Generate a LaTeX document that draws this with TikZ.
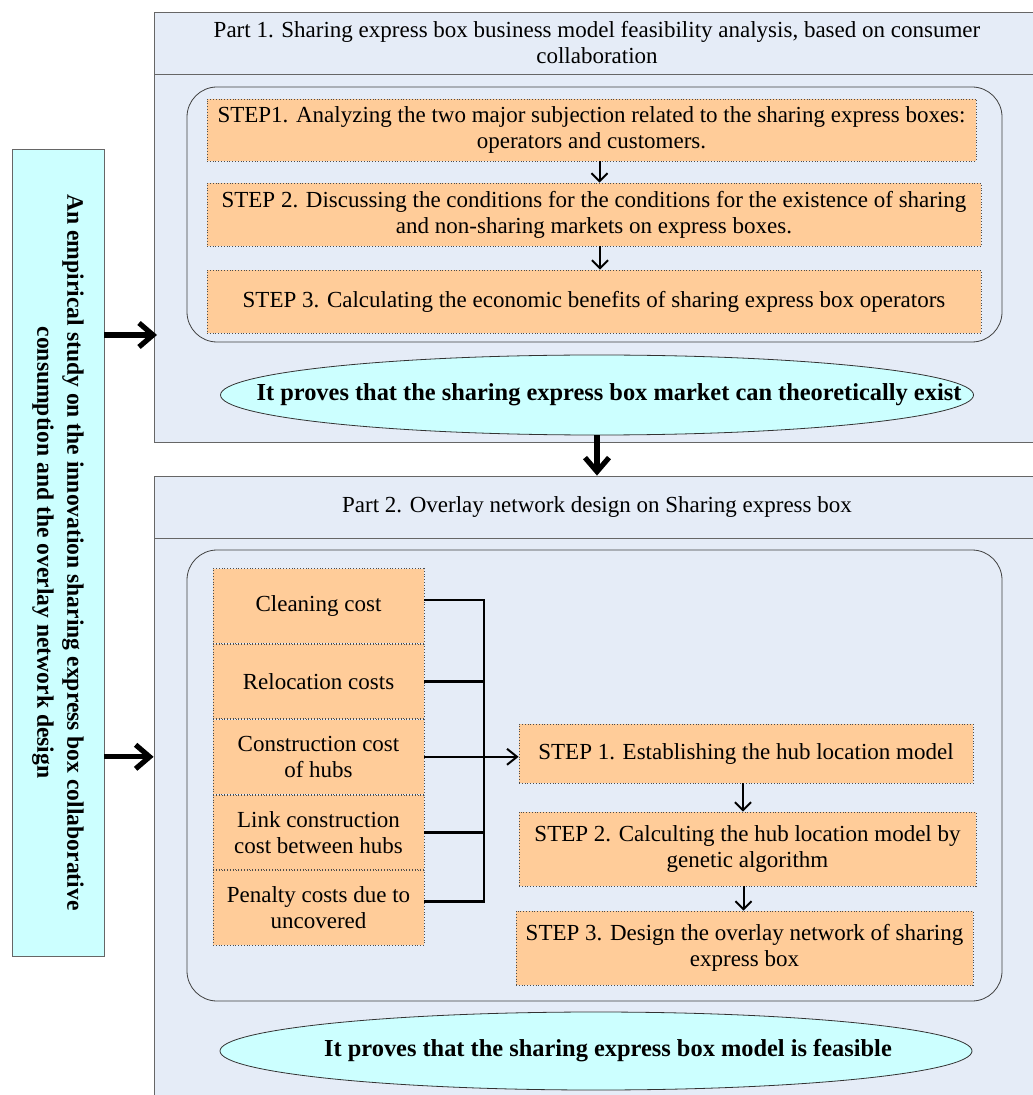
\documentclass[tikz,border=0pt]{standalone}
\usepackage{fontspec}
\setmainfont{Liberation Serif}
\usepackage{xcolor}
\usepackage{tikz}
\usetikzlibrary{arrows.meta, positioning, calc, shapes.geometric}

\definecolor{partbg}{RGB}{229,236,247}
\definecolor{ovalfill}{RGB}{204,255,255}
\definecolor{stepfill}{RGB}{255,204,153}

\begin{document}
\begin{tikzpicture}[
		  x=0.5pt, y=-0.5pt,
		  font=\fontsize{11.5}{13}\selectfont,
		  partbox/.style={
		    draw=black!60,
		    fill=partbg,
		    align=center,
		    inner sep=0pt,
		    minimum width=443pt
		  },
		  roundbox/.style={draw=black!75, rounded corners=15pt, minimum width=407.5pt},
		  stepbox/.style={draw=black!70, densely dotted, fill=stepfill, align=center, inner sep=0pt},
		  costbox/.style={stepbox, minimum width=105.5pt, minimum height=37.3pt},
		  titlebox/.style={
		    draw=black!60,
		    fill=ovalfill,
		    align=center,
		    font=\fontsize{11.8}{15}\selectfont\bfseries,
		    minimum width=403.5pt,
		    minimum height=46pt
		  },
		  ovalbox/.style={ellipse, draw=black!80, fill=ovalfill, inner sep=0pt},
		  ovaltext/.style={font=\fontsize{12.2}{13}\selectfont\bfseries, xshift=6pt},
		  arrow/.style={-{Straight Barb[length=4pt,width=8pt]}, line width=1pt},
		  midarrow/.style={-{Straight Barb[length=5pt,width=8pt]}, line width=1pt},
		  bigarrow/.style={-{Straight Barb[length=7pt,width=12pt]}, line width=2.6pt},
		  busline/.style={line width=1.4pt}
		]
		\useasboundingbox (0,0) rectangle (1032,1095);

		% --- left title ---
		\node[titlebox, rotate=-90] (title) at (58,552.5) {An empirical study on the innovation sharing express box collaborative\\consumption and the overlay network design};

		% --- part 1 ---
		\node[partbox, minimum height=31pt] (p1head) at (597,43) {Part 1. Sharing express box business model feasibility analysis, based on consumer\\collaboration};
		\node[partbox, minimum height=184pt] (p1body) at (597,258) {};
		\node[roundbox, minimum height=127.5pt] (r1) at (594.5,214.5) {};

		\node[stepbox, minimum width=384.5pt, minimum height=31pt] (s1) at (591.5,130) {STEP1. Analyzing the two major subjection related to the sharing express boxes:\\operators and customers.};
		\node[stepbox, minimum width=387pt, minimum height=31.5pt] (s2) at (594,214.5) {STEP 2. Discussing the conditions for the conditions for the existence of sharing\\and non-sharing markets on express boxes.};
		\node[stepbox, minimum width=387pt, minimum height=31.5pt] (s3) at (594,301.5) {STEP 3. Calculating the economic benefits of sharing express box operators};

		\node[ovalbox, minimum width=376.5pt, minimum height=40pt] (e1) at (597,395) {};
		\node[ovaltext] at (e1) {It proves that the sharing express box market can theoretically exist};

		% --- part 2 ---
		\node[partbox, minimum height=31pt] (p2head) at (597,507) {Part 2. Overlay network design on Sharing express box};
		\node[partbox, minimum height=281pt] (p2body) at (597,819) {};
		\node[roundbox, minimum height=225.5pt] (r2) at (594.5,775.5) {};

		\node[costbox] (c1) at (318.5,606) {Cleaning cost};
		\node[costbox, below=0pt of c1] (c2) {Relocation costs};
		\node[costbox, below=0pt of c2] (c3) {Construction cost\\of hubs};
		\node[costbox, below=0pt of c3] (c4) {Link construction\\cost between hubs};
		\node[costbox, below=0pt of c4] (c5) {Penalty costs due to\\uncovered};
		\coordinate (bus) at (484,755);

		\node[stepbox, minimum width=227pt, minimum height=29.5pt] (q1) at (746,753.5) {STEP 1. Establishing the hub location model};
		\node[stepbox, minimum width=228.5pt, minimum height=37pt] (q2) at (747.5,849) {STEP 2. Calculting the hub location model by\\genetic algorithm};
		\node[stepbox, minimum width=228.5pt, minimum height=37pt] (q3) at (744.5,948) {STEP 3. Design the overlay network of sharing\\express box};

		\node[ovalbox, minimum width=376pt, minimum height=39pt] (e2) at (596,1051) {};
		\node[ovaltext] at (e2) {It proves that the sharing express box model is feasible};

		% --- arrows ---
		\coordinate (in1) at (157,335);
		\draw[bigarrow] (title.north |- in1) -- (in1);
		\draw[bigarrow] (title.north |- c3) -- (p2body.west |- c3);
		\draw[bigarrow] (e1.south) -- (e1.south |- p2head.north);

		\draw[arrow] ([xshift=4pt]s1.south) -- ([xshift=4pt]s1.south |- s2.north);
		\draw[arrow] ([xshift=3pt]s2.south) -- ([xshift=3pt]s2.south |- s3.north);

		\draw[busline] ([yshift=3pt]c1.east) -| (bus) |- ([yshift=3pt]c5.east);
		\draw[busline] (c2.east) -- (c2.east -| bus);
		\draw[busline] (c4.east) -- (c4.east -| bus);
		\draw[midarrow] (c3.east) -- (c3.east -| q1.west);

		\draw[arrow] ([xshift=-1.5pt]q1.south) -- ([xshift=-1.5pt]q1.south |- q2.north);
		\draw[arrow] ([xshift=-2pt]q2.south) -- ([xshift=-2pt]q2.south |- q3.north);

		\end{tikzpicture}
\end{document}
